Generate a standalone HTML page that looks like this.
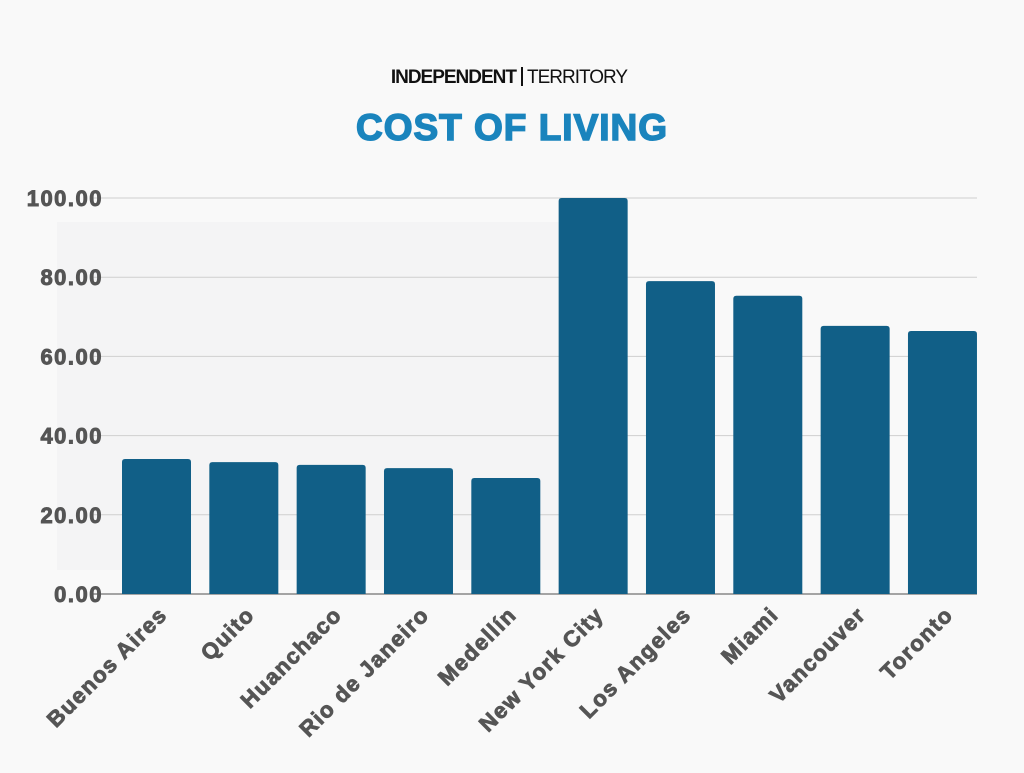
<!DOCTYPE html>
<html><head><meta charset="utf-8"><style>
body{margin:0;width:1024px;height:768px;background:#f9f9f9;overflow:hidden;font-family:"Liberation Sans",sans-serif}
</style></head><body>
<svg width="1024" height="768">
<rect x="0" y="0" width="1024" height="768" fill="#f9f9f9"/>
<rect x="57" y="222" width="503" height="348" fill="#f4f4f5"/>
<text x="516" y="83" text-anchor="end" font-size="19" font-weight="bold" fill="#111" style="letter-spacing:-1px">INDEPENDENT</text>
<rect x="521" y="67" width="2" height="19" fill="#111"/>
<text x="527" y="83" font-size="19" fill="#111" style="letter-spacing:-1px">TERRITORY</text>
<text x="512" y="140" text-anchor="middle" font-size="37" font-weight="bold" fill="#1a84bd" stroke="#1a84bd" stroke-width="1.5" style="letter-spacing:1px">COST OF LIVING</text>
<g id="grid"></g><g id="bars"></g><g id="labels"></g>
</svg>
<script>
const categories=["Buenos Aires","Quito","Huanchaco","Rio de Janeiro","Medellín","New York City","Los Angeles","Miami","Vancouver","Toronto"];
const values=[34.1,33.3,32.6,31.8,29.3,100,79.0,75.3,67.7,66.4];
const ticks=[0,20,40,60,80,100];
const tickLabels=["0.00","20.00","40.00","60.00","80.00","100.00"];
const NS="http://www.w3.org/2000/svg";
const y0=594,yTop=198,yMax=100;
const yS=v=>y0-(v/yMax)*(y0-yTop);
const x0=122,pitch=87.33,bw=69;
const xS=i=>x0+i*pitch;
const g=document.getElementById('grid'),b=document.getElementById('bars'),l=document.getElementById('labels');
function mk(t,a){const e=document.createElementNS(NS,t);for(const k in a)e.setAttribute(k,a[k]);return e;}
ticks.forEach((t,i)=>{
 const ln=mk('line',{x1:92,x2:977,y1:yS(t),y2:yS(t),stroke:t===0?'#888':'#cfcfcf','stroke-width':t===0?1.5:1});
 
 
 g.appendChild(ln);
 const tx=mk('text',{x:103,y:yS(t)+8,'text-anchor':'end','font-size':22,'font-weight':'bold',fill:'#555',stroke:'#555','stroke-width':0.9,style:'letter-spacing:1.5px'});
 tx.textContent=tickLabels[i];
 
 
 g.appendChild(tx);
});
categories.forEach((c,i)=>{
 const x=xS(i),y=yS(values[i]);
 const p=mk('path',{d:`M${x},${y0} L${x},${y+3} Q${x},${y} ${x+3},${y} L${x+bw-3},${y} Q${x+bw},${y} ${x+bw},${y+3} L${x+bw},${y0} Z`,fill:'#115f87'});
 
 
 b.appendChild(p);
 const cx=x+bw/2+12,cy=616;
 const tx=mk('text',{x:cx,y:cy,'text-anchor':'end','font-size':22,'font-weight':'bold',fill:'#555',stroke:'#555','stroke-width':0.9,style:'letter-spacing:1.5px',transform:`rotate(-45 ${cx} ${cy})`});
 tx.textContent=c;
 
 
 l.appendChild(tx);
});
</script>
</body></html>
